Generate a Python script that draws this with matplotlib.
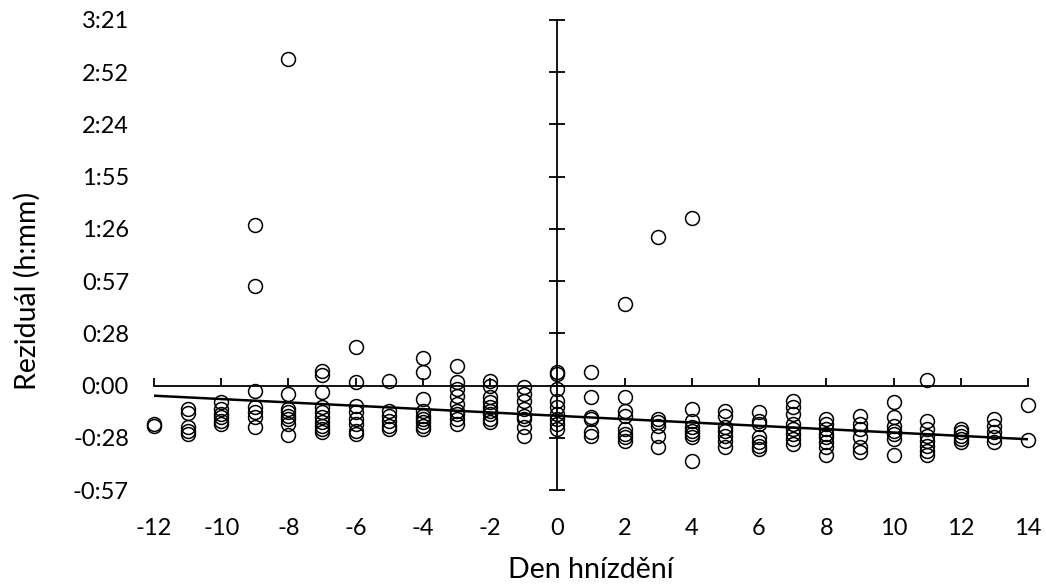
import numpy as np
import matplotlib.pyplot as plt
from matplotlib.ticker import FuncFormatter

plt.rcParams['font.family'] = ['Lato', 'DejaVu Sans']
plt.rcParams['axes.unicode_minus'] = False

# rezidua v minutach podle dne hnizdeni
res = {
    -12: [-21.3, -22.4],
    -11: [-13.0, -15.2, -22.9, -25.1, -26.8],
    -10: [-9.1, -13.0, -15.7, -17.4, -19.6, -21.3],
    -9: [88.6, 55.1, -2.9, -11.9, -14.6, -17.4, -22.9],
    -8: [180.0, -4.7, -13.0, -14.6, -16.9, -18.5, -21.3, -27.3],
    -7: [8.2, 5.8, -3.6, -11.9, -14.6, -17.4, -20.2, -22.4, -24.0, -25.7],
    -6: [21.3, 1.9, -11.3, -14.6, -18.5, -21.3, -25.1, -26.8],
    -5: [2.7, -13.9, -16.7, -19.4, -22.2, -24.0],
    -4: [15.2, 7.5, -7.5, -13.9, -16.7, -18.5, -20.2, -22.2, -24.0],
    -3: [10.8, 1.9, -1.9, -5.8, -10.2, -14.1, -15.7, -18.5, -21.3],
    -2: [2.7, -0.1, -6.4, -9.1, -11.9, -14.1, -15.7, -18.5, -20.2],
    -1: [-0.8, -4.7, -8.6, -13.0, -16.9, -18.5, -22.9, -27.9],
    0: [7.5, 6.4, -1.9, -8.6, -11.9, -15.7, -18.5, -21.3, -24.0],
    1: [7.5, -6.4, -17.4, -18.5, -25.7, -27.9],
    2: [45.0, -6.4, -14.1, -16.9, -24.0, -26.8, -28.5, -30.7],
    3: [82.0, -18.5, -20.2, -22.4, -27.9, -34.0],
    4: [92.5, -13.0, -19.6, -22.9, -25.1, -26.8, -28.5, -41.7],
    5: [-14.1, -16.9, -22.9, -25.1, -27.9, -30.7, -34.0],
    6: [-14.6, -19.6, -21.3, -28.5, -31.2, -33.4, -35.1],
    7: [-8.6, -11.9, -15.7, -21.3, -24.0, -26.8, -29.6, -32.3],
    8: [-18.5, -21.3, -24.0, -26.8, -28.5, -31.2, -34.0, -38.4],
    9: [-16.9, -21.3, -24.0, -28.5, -34.0, -36.7],
    10: [-9.1, -17.4, -22.4, -25.1, -26.8, -29.6, -38.4],
    11: [3.0, -19.6, -24.0, -27.9, -30.7, -33.4, -36.2, -38.4],
    12: [-24.0, -25.7, -27.9, -29.6, -31.2],
    13: [-18.5, -22.4, -25.7, -28.5, -31.2],
    14: [-10.8, -30.1],
}

trend_days = [-12, 14]
trend_vals = [-5.6, -29.6]

x_ticks = np.arange(-12, 15, 2)
y_ticks = np.arange(-2, 8) * 28.8   # krok 0.02 dne


def hmm(v, pos=None):
    sign = '-' if v < 0 else ''
    m = int(round(abs(v), 6))
    return f"{sign}{m // 60}:{m % 60:02d}"


dx = np.concatenate([[d] * len(v) for d, v in res.items()])
dy = np.concatenate([v for v in res.values()])

fig = plt.figure(figsize=(10.46, 5.88), dpi=100)
ax = fig.add_axes([154 / 1046, 1 - 490 / 588, 874 / 1046, 470 / 588])

ax.plot(dx, dy, 'o', ms=10, mfc='none', mec='black', mew=1.1, clip_on=False, zorder=3)
ax.plot(trend_days, trend_vals, color='black', lw=1.8, zorder=4)

ax.set_xlim(-12, 14)
ax.set_ylim(y_ticks[0], y_ticks[-1])

# osy se krizi v nule
ax.spines['left'].set_position(('data', 0))
ax.spines['bottom'].set_position(('data', 0))
ax.spines['top'].set_visible(False)
ax.spines['right'].set_visible(False)
for s in ['left', 'bottom']:
    ax.spines[s].set_linewidth(1.3)

ax.set_xticks(x_ticks)
ax.set_yticks(y_ticks)
ax.tick_params(axis='x', direction='in', length=6, width=1.3, labelbottom=False)
ax.tick_params(axis='y', direction='inout', length=12, width=1.3, labelleft=False)

# popisky na okraji grafu
secx = ax.secondary_xaxis(0)
secx.set_xticks(x_ticks)
secx.spines['bottom'].set_visible(False)
secx.tick_params(length=0, pad=20, labelsize=17)

secy = ax.secondary_yaxis(0)
secy.set_yticks(y_ticks)
secy.yaxis.set_major_formatter(FuncFormatter(hmm))
secy.spines['left'].set_visible(False)
secy.tick_params(length=0, pad=18, labelsize=17)

fig.text(591 / 1046, 1 - 578 / 588, 'Den hnízdění', ha='center', va='baseline', fontsize=20.5)
fig.text(27 / 1046, 1 - 291 / 588, 'Reziduál (h:mm)', ha='center', va='center',
         rotation=90, fontsize=20.5)

fig.savefig('out.png', dpi=100)
